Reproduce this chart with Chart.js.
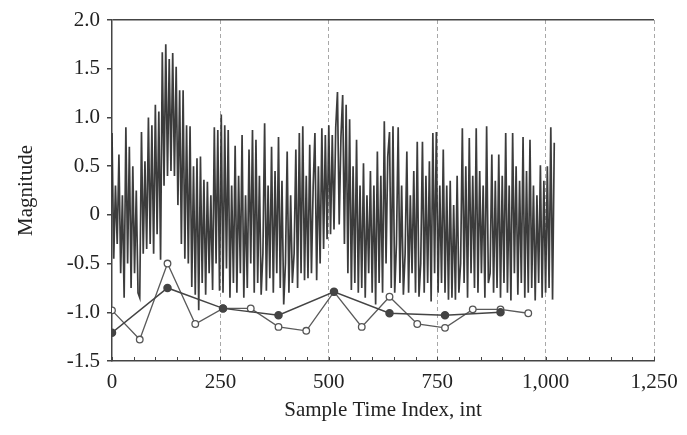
<!DOCTYPE html>
<html>
<head>
<meta charset="utf-8">
<script src="https://cdn.jsdelivr.net/npm/chart.js@4/dist/chart.umd.min.js"></script>
<style>
  html, body { margin: 0; padding: 0; background: #ffffff; }
  #wrap { width: 687px; height: 435px; }
</style>
</head>
<body>
<div id="wrap"><canvas id="c" width="687" height="435"></canvas></div>
<script>
// Sample spacing of the signal (one value read every 4 samples)
const signalStep = 4;
// Noisy signal (sample index = i * signalStep)
const signalValues = [
  0.84, -0.45, 0.3, -0.3, 0.62, -0.6, 0.2, -0.85, 0.9, -0.5, 0.7, -0.75, 0.5, -0.6, 0.25, -0.8,
  -0.85, 0.85, -0.4, 0.55, -0.35, 1.0, -0.3, 0.92, -0.4, 1.13, -0.2, 1.06, -0.46, 1.67, 0.3, 1.75,
  0.4, 1.6, 0.45, 1.66, 0.4, 1.52, 0.1, 1.28, -0.3, 1.28, -0.45, 0.92, -0.5, 0.91, -0.74, 0.5,
  -0.82, 0.58, -0.98, 0.6, -0.7, 0.36, -0.82, 0.34, -0.6, 0.2, -0.77, 0.9, -0.5, 0.87, -0.78, 1.03,
  -0.8, 0.92, -0.55, 0.87, -0.85, 0.3, -0.7, 0.71, -0.8, 0.4, -0.6, 0.82, -0.85, 0.2, -0.75, 0.67,
  -0.5, 0.87, -0.8, 0.77, -0.7, 0.4, -0.82, -0.4, 0.94, -0.78, 0.3, -0.65, 0.7, -0.8, 0.45, -0.6,
  0.8, -0.75, 0.35, -0.92, -0.5, 0.65, -0.8, 0.2, -0.7, -0.4, 0.67, -0.75, 0.84, -0.6, 0.91, -0.67,
  0.4, -0.65, 0.72, -0.6, 0.3, 0.84, -0.67, 0.5, -0.5, 0.89, -0.35, 0.82, -0.25, 0.92, -0.2, 0.82,
  -0.15, 0.9, 1.26, -0.1, 0.8, 1.23, -0.3, 1.13, -0.6, 0.98, -0.77, 0.5, -0.7, 0.77, -0.8, 0.3,
  -0.75, 0.53, -0.85, 0.2, -0.6, 0.45, -0.8, 0.3, -0.92, 0.65, -0.7, 0.4, -0.8, 0.96, -0.5, 0.6,
  0.85, -0.75, 0.91, -0.8, -0.3, 0.9, -0.7, 0.3, -0.82, -0.4, 0.65, -0.8, 0.2, -0.6, 0.45, -0.8,
  0.75, -0.84, -0.5, 0.75, -0.8, 0.4, -0.7, 0.55, -0.89, 0.84, -0.6, 0.85, -0.8, 0.3, -0.7, 0.67,
  -0.8, 0.3, -0.87, 0.35, -0.85, 0.1, -0.87, 0.4, -0.8, -0.5, 0.89, -0.7, 0.5, -0.85, 0.79, -0.6,
  0.4, -0.75, 0.89, -0.8, 0.45, -0.6, 0.3, -0.85, 0.91, -0.7, -0.6, 0.62, -0.8, 0.35, -0.75, 0.62,
  -0.85, 0.4, -0.7, 0.84, -0.8, 0.3, -0.88, 0.84, -0.6, 0.5, -0.82, 0.35, -0.7, 0.8, -0.85, 0.45,
  -0.8, 0.77, -0.75, 0.3, -0.88, 0.2, -0.7, 0.51, -0.85, 0.35, -0.8, 0.5, -0.75, 0.9, -0.87, 0.74
];
// Open-circle series (every 64 samples)
const openX = [0, 64, 128, 192, 256, 320, 384, 448, 512, 576, 640, 704, 768, 832, 896, 960];
const openY = [-0.98, -1.28, -0.5, -1.12, -0.96, -0.96, -1.15, -1.19, -0.79, -1.15, -0.84, -1.12, -1.16, -0.97, -0.97, -1.01];
// Filled-circle series (every 128 samples)
const filledX = [0, 128, 256, 384, 512, 640, 768, 896];
const filledY = [-1.21, -0.75, -0.96, -1.03, -0.79, -1.01, -1.03, -1.0];
// Axis ticks
const xTickValues = [0, 250, 500, 750, 1000, 1250];
const yTickValues = [2.0, 1.5, 1.0, 0.5, 0, -0.5, -1.0, -1.5];

const signalData = signalValues.map((v, i) => ({ x: i * signalStep, y: v }));
const openData = openX.map((x, i) => ({ x: x, y: openY[i] }));
const filledData = filledX.map((x, i) => ({ x: x, y: filledY[i] }));

const FONT = "'Liberation Serif', 'DejaVu Serif', serif";
const TEXT = '#222222';
const AXIS = '#444444';

// small inward minor ticks every 50 samples on the bottom axis
const minorTicks = {
  id: 'minorTicks',
  afterDraw(chart) {
    const xs = chart.scales.x, ctx = chart.ctx, a = chart.chartArea;
    ctx.save();
    ctx.strokeStyle = AXIS;
    ctx.lineWidth = 1;
    for (let v = 0; v <= 1250; v += 50) {
      const px = Math.round(xs.getPixelForValue(v)) + 0.5;
      ctx.beginPath();
      ctx.moveTo(px, a.bottom);
      ctx.lineTo(px, a.bottom - 4);
      ctx.stroke();
    }
    ctx.restore();
  }
};

new Chart(document.getElementById('c'), {
  type: 'line',
  data: {
    datasets: [
      {
        label: 'Signal',
        data: signalData,
        borderColor: 'rgba(50,50,50,0.95)',
        borderWidth: 1.7,
        borderJoinStyle: 'miter',
        pointRadius: 0,
        tension: 0,
        order: 3
      },
      {
        label: 'Open',
        data: openData,
        borderColor: '#5a5a5a',
        borderWidth: 1.3,
        pointRadius: 3.3,
        pointBackgroundColor: '#ffffff',
        pointBorderColor: '#555555',
        pointBorderWidth: 1.3,
        tension: 0,
        order: 2
      },
      {
        label: 'Filled',
        data: filledData,
        borderColor: '#444444',
        borderWidth: 1.5,
        pointRadius: 3.5,
        pointBackgroundColor: '#444444',
        pointBorderColor: '#444444',
        tension: 0,
        order: 1
      }
    ]
  },
  options: {
    responsive: false,
    animation: false,
    events: [],
    layout: { padding: { left: 0, right: 33, top: 20, bottom: 0 } },
    plugins: { legend: { display: false }, tooltip: { enabled: false } },
    scales: {
      x: {
        type: 'linear',
        min: 0,
        max: 1250,
        afterBuildTicks: (s) => { s.ticks = xTickValues.map(v => ({ value: v })); },
        afterFit: (s) => { s.height = 74; },
        ticks: {
          font: { family: FONT, size: 21 },
          color: TEXT,
          padding: 9,
          maxRotation: 0,
          autoSkip: false,
          callback: (v) => v.toLocaleString('en-US')
        },
        grid: {
          drawTicks: false,
          lineWidth: 1,
          color: (ctx) => (ctx.tick && ctx.tick.value > 0) ? '#a8a8a8' : 'rgba(0,0,0,0)'
        },
        border: { display: true, color: AXIS, width: 1.5, dash: [4, 3] },
        title: {
          display: true,
          text: 'Sample Time Index, int',
          font: { family: FONT, size: 21 },
          color: TEXT,
          padding: { top: 0, bottom: 12 }
        }
      },
      y: {
        min: -1.5,
        max: 2.0,
        afterBuildTicks: (s) => { s.ticks = yTickValues.map(v => ({ value: v })); },
        afterFit: (s) => { s.width = 112; },
        ticks: {
          font: { family: FONT, size: 21 },
          color: TEXT,
          padding: 7,
          autoSkip: false,
          callback: (v) => v === 0 ? '0' : v.toFixed(1)
        },
        grid: {
          drawTicks: true,
          tickLength: 5,
          tickColor: AXIS,
          lineWidth: 1.5,
          color: (ctx) => (ctx.tick && ctx.tick.value === 2) ? AXIS : 'rgba(0,0,0,0)'
        },
        border: { display: true, color: AXIS, width: 1.5 },
        title: {
          display: true,
          text: 'Magnitude',
          font: { family: FONT, size: 21 },
          color: TEXT,
          padding: { top: 14, bottom: 0 }
        }
      }
    }
  },
  plugins: [minorTicks]
});
</script>
</body>
</html>
